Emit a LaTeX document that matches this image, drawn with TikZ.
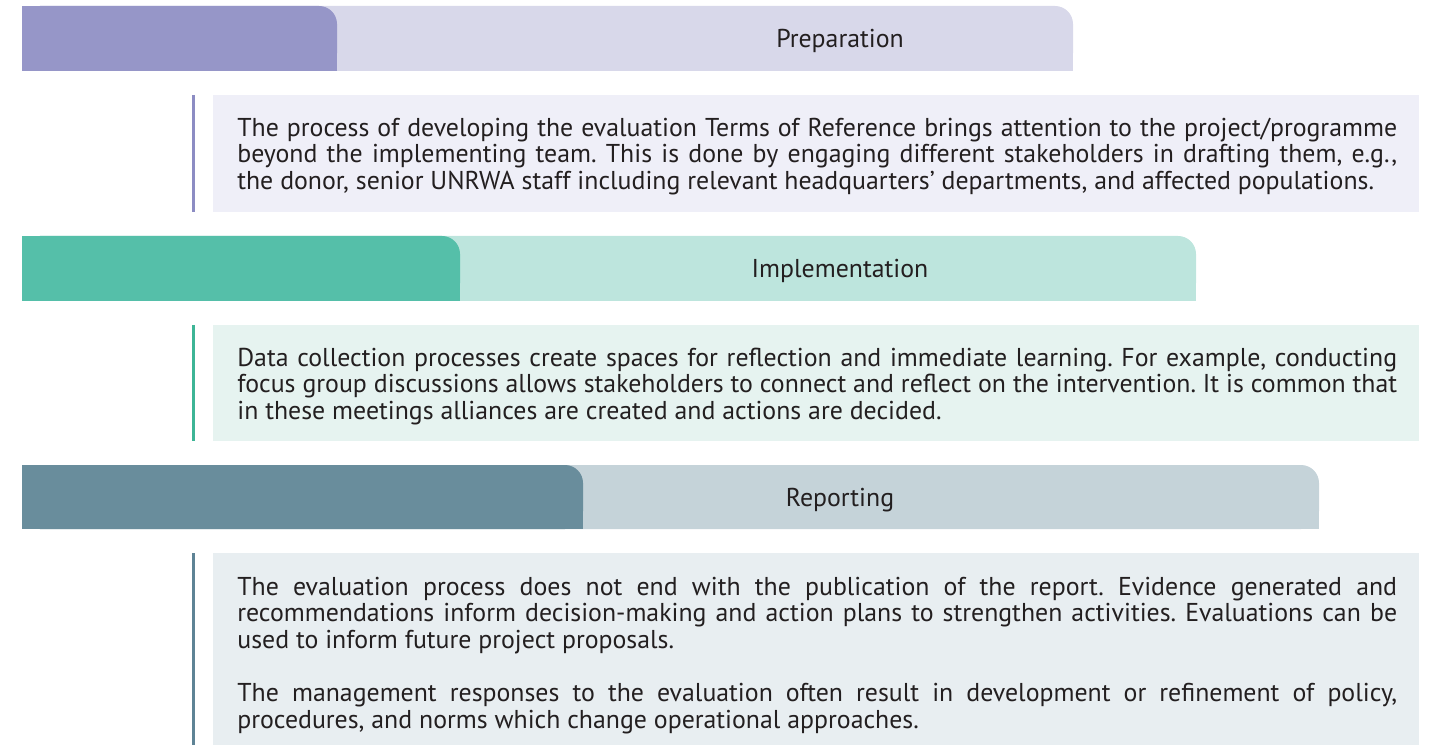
\documentclass[tikz,border=0pt]{standalone}
\usepackage{fontspec}
\setmainfont{PT Sans}
\usepackage{tikz}
\usetikzlibrary{positioning}

\definecolor{txt}{HTML}{231F20}
\definecolor{prepdark}{HTML}{9696C8}
\definecolor{preplight}{HTML}{D8D8EA}
\definecolor{prepbox}{HTML}{EFEFF8}
\definecolor{prepline}{HTML}{8C8CC3}
\definecolor{impdark}{HTML}{55BFA9}
\definecolor{implight}{HTML}{BDE5DD}
\definecolor{impbox}{HTML}{E6F3F0}
\definecolor{impline}{HTML}{3DB596}
\definecolor{repdark}{HTML}{698D9C}
\definecolor{replight}{HTML}{C5D3D9}
\definecolor{repbox}{HTML}{E8EEF1}
\definecolor{repline}{HTML}{5E8395}

\begin{document}
\frenchspacing
\begin{tikzpicture}[x=0.02cm,y=-0.02cm,
  lbl/.style={anchor=base, inner sep=0pt, text=txt, font=\fontsize{14.7}{15.2}\selectfont},
  body/.style={anchor=north west, inner sep=0pt, text width=23.2cm, align=justify, text=txt, font=\fontsize{14.7}{15.2}\selectfont\frenchspacing},
  bar/.style={rounded corners=0.36cm},
  rule/.style={line width=0.06cm}]
\useasboundingbox (0,0) rectangle (1430,746);

% preparation
\fill[preplight, bar] (22,6) rectangle (1073,71); \fill[preplight] (22,6) rectangle (1040,71); \fill[preplight] (22,40) rectangle (1073,71);
\fill[prepdark, bar] (22,6) rectangle (337,71); \fill[prepdark] (22,6) rectangle (300,71); \fill[prepdark] (22,40) rectangle (337,71);
\node[lbl] (prep) at (840,48) {Preparation};
\coordinate (prepa) at (193,95); \coordinate (prepb) at (193,212);
\draw[prepline, rule] (prepa) -- (prepb);
\fill[prepbox] (213,95) rectangle (1419,212);
\node[body] (preptext) at (237,117.5) {The process of developing the evaluation Terms of Reference brings attention to the project/programme\linebreak beyond the implementing team. This is done by engaging different stakeholders in drafting them, e.g.,\linebreak the donor, senior UNRWA staff including relevant headquarters’ departments, and affected populations.};

% implementation
\fill[implight, bar] (22,236) rectangle (1196,301); \fill[implight] (22,236) rectangle (1160,301); \fill[implight] (22,270) rectangle (1196,301);
\fill[impdark, bar] (22,236) rectangle (460,301); \fill[impdark] (22,236) rectangle (420,301); \fill[impdark] (22,270) rectangle (460,301);
\node[lbl] (imp) at (840,278) {Implementation};
\coordinate (impa) at (193,325); \coordinate (impb) at (193,441);
\draw[impline, rule] (impa) -- (impb);
\fill[impbox] (213,325) rectangle (1419,441);
\node[body] (imptext) at (237,347.5) {Data collection processes create spaces for reflection and immediate learning. For example, conducting\linebreak focus group discussions allows stakeholders to connect and reflect on the intervention. It is common that\linebreak in these meetings alliances are created and actions are decided.};

% reporting
\fill[replight, bar] (22,465) rectangle (1319,529); \fill[replight] (22,465) rectangle (1280,529); \fill[replight] (22,500) rectangle (1319,529);
\fill[repdark, bar] (22,465) rectangle (583,529); \fill[repdark] (22,465) rectangle (540,529); \fill[repdark] (22,500) rectangle (583,529);
\node[lbl] (rep) at (840,506) {Reporting};
\coordinate (repa) at (193,553); \coordinate (repb) at (193,745);
\draw[repline, rule] (repa) -- (repb);
\fill[repbox] (213,553) rectangle (1419,745);
\node[body] (reptext) at (237,576.5) {The evaluation process does not end with the publication of the report. Evidence generated and\linebreak recommendations inform decision-making and action plans to strengthen activities. Evaluations can be\linebreak used to inform future project proposals.\par\vspace{15.2pt}
The management responses to the evaluation often result in development or refinement of policy,\linebreak procedures, and norms which change operational approaches.};
\end{tikzpicture}
\end{document}
